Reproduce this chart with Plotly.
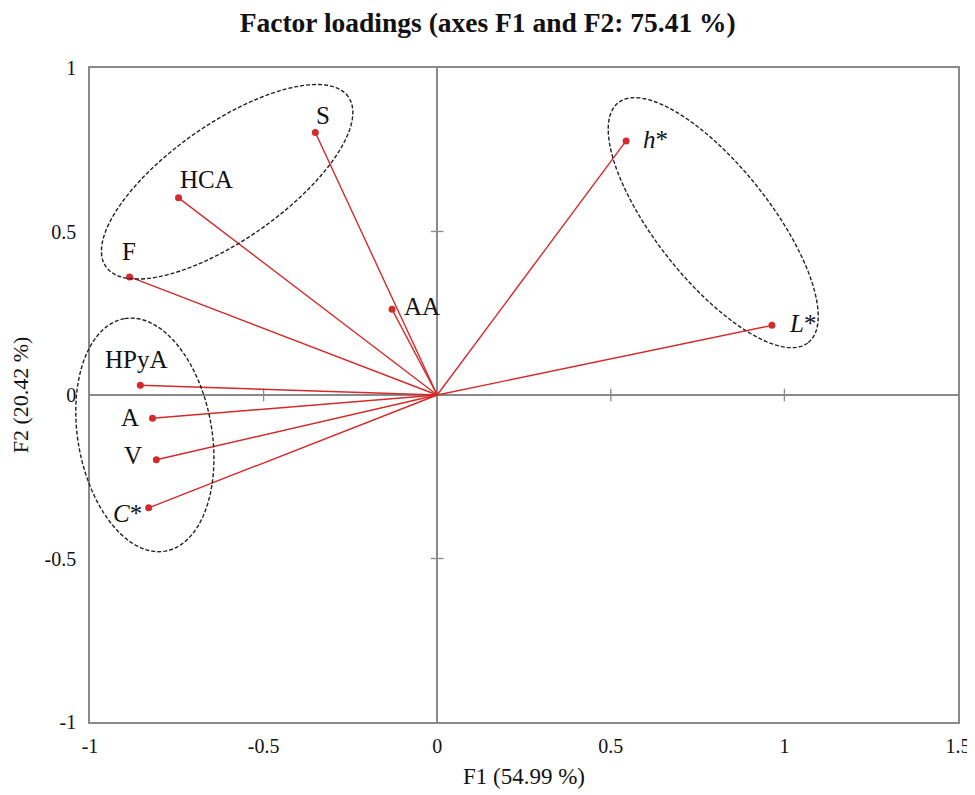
import numpy as np
import plotly.graph_objects as go

# ---- data ----
variables = ["S", "HCA", "F", "AA", "<i>h</i>*", "<i>L</i>*", "HPyA", "A", "V", "<i>C</i>*"]
f1_loadings = [-0.351, -0.745, -0.886, -0.130, 0.544, 0.964, -0.855, -0.820, -0.809, -0.831]
f2_loadings = [0.803, 0.603, 0.361, 0.262, 0.777, 0.213, 0.030, -0.071, -0.198, -0.345]
x_ticks = [-1, -0.5, 0, 0.5, 1, 1.5]
y_ticks = [-1, -0.5, 0, 0.5, 1]

# ---- styles ----
# label offsets from each point, pixels (right, down)
label_dx = [8, 28, -1, 30, 29, 31, -4, -23, -23, -21]
label_dy = [-17, -18, -25, -3, -1, -2, -26, -1, -4, 6]
RED = "#d42a2a"
GRAY = "#8a8a8a"
FONT = "Liberation Serif"

# plot-area geometry (pixels)
W, H = 975, 795
ML, MR, MT, MB = 82, 25, 60, 81
px_x = (W - ML - MR) / (x_ticks[-1] - x_ticks[0])
px_y = (H - MT - MB) / (y_ticks[-1] - y_ticks[0])

# grouping ellipses: centre (data), semi-axes (px), angle (deg)
ellipses = [
    ((-0.605, 0.652), 148, 58, 35),
    ((0.795, 0.527), 153, 57, -51.6),
    ((-0.842, -0.122), 118, 67, 100),
]

fig = go.Figure()

shapes = []
for (cx, cy), a, b, ang in ellipses:
    t = np.linspace(0, 2 * np.pi, 180, endpoint=False)
    th = np.deg2rad(ang)
    ex = a * np.cos(t) * np.cos(th) - b * np.sin(t) * np.sin(th)
    ey = a * np.cos(t) * np.sin(th) + b * np.sin(t) * np.cos(th)
    xd = cx + ex / px_x
    yd = cy + ey / px_y
    xp = (xd - x_ticks[0]) / (x_ticks[-1] - x_ticks[0])
    yp = (yd - y_ticks[0]) / (y_ticks[-1] - y_ticks[0])
    path = "M " + " L ".join(f"{u:.5f},{v:.5f}" for u, v in zip(xp, yp)) + " Z"
    shapes.append(dict(type="path", path=path, xref="paper", yref="paper",
                       line=dict(color="#222222", width=1.4, dash="4px,2px"), layer="above"))

# tick marks crossing the zero lines
fig.add_trace(go.Scatter(x=[v for v in x_ticks if v not in (0, x_ticks[0], x_ticks[-1])],
                         y=[0] * 3, mode="markers",
                         marker=dict(symbol="line-ns", size=9, line=dict(color=GRAY, width=1.3)),
                         hoverinfo="skip", showlegend=False))
fig.add_trace(go.Scatter(x=[0, 0], y=[v for v in y_ticks if v not in (0, y_ticks[0], y_ticks[-1])],
                         mode="markers",
                         marker=dict(symbol="line-ew", size=9, line=dict(color=GRAY, width=1.3)),
                         hoverinfo="skip", showlegend=False))

# vectors from origin
lx, ly = [], []
for x, y in zip(f1_loadings, f2_loadings):
    lx += [0, x, None]
    ly += [0, y, None]
fig.add_trace(go.Scatter(x=lx, y=ly, mode="lines", line=dict(color=RED, width=1.4),
                         hoverinfo="skip", showlegend=False))
fig.add_trace(go.Scatter(x=f1_loadings, y=f2_loadings, mode="markers",
                         marker=dict(color=RED, size=7), hoverinfo="text",
                         text=variables, showlegend=False))

annotations = []
for name, x, y, dx, dy in zip(variables, f1_loadings, f2_loadings, label_dx, label_dy):
    annotations.append(dict(x=x, y=y, xref="x", yref="y", text=name, showarrow=False,
                            xanchor="center", yanchor="middle",
                            xshift=dx, yshift=-dy,
                            font=dict(family=FONT, size=25, color="#111111")))

axis_common = dict(showgrid=False, zeroline=True, zerolinecolor=GRAY, zerolinewidth=1.5,
                   showline=True, mirror=True, linecolor=GRAY, linewidth=1.5, automargin=False,
                   ticks="", tickfont=dict(family=FONT, size=20, color="#111111"))

fig.update_layout(
    width=W, height=H,
    margin=dict(l=ML, r=MR, t=MT, b=MB),
    plot_bgcolor="white", paper_bgcolor="white",
    shapes=shapes,
    annotations=annotations,
    title=dict(text="<b>Factor loadings (axes F1 and F2: 75.41 %)</b>", x=0.492, xanchor="center",
               y=0.982, yanchor="middle", font=dict(family=FONT, size=27.5, color="#111111")),
    xaxis=dict(range=[x_ticks[0], x_ticks[-1]], tickvals=x_ticks,
               ticktext=[f"{v:g}" for v in x_ticks], ticklabelstandoff=5,
               title=dict(text="F1 (54.99 %)", standoff=12,
                          font=dict(family=FONT, size=23, color="#111111")),
               **axis_common),
    yaxis=dict(range=[y_ticks[0], y_ticks[-1]], tickvals=y_ticks,
               ticktext=[f"{v:g}" for v in y_ticks], ticklabelstandoff=8,
               title=dict(text="F2 (20.42 %)", standoff=14,
                          font=dict(family=FONT, size=22, color="#111111")),
               **axis_common),
)

fig.write_html("out.html")
